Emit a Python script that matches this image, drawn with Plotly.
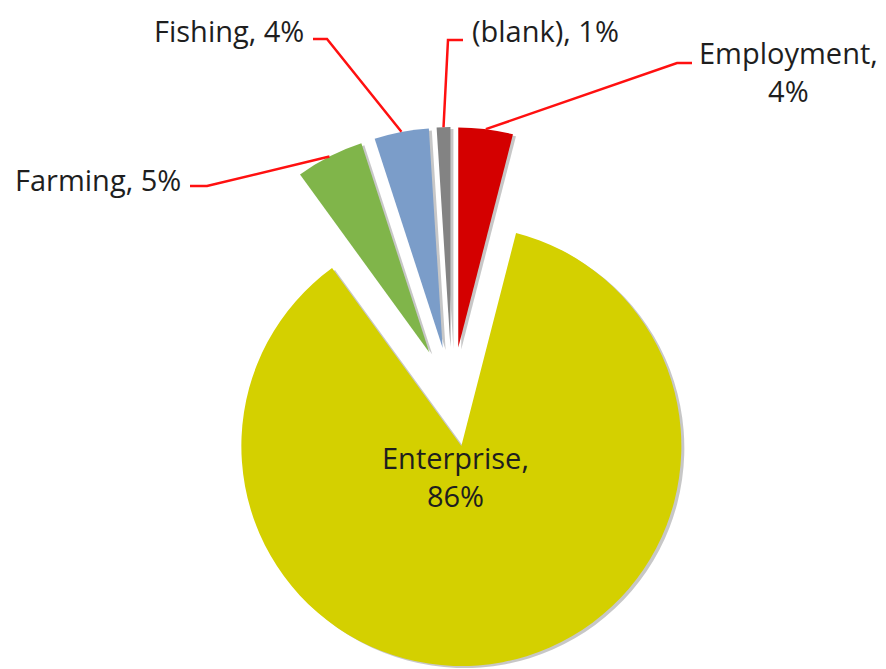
import math
import plotly.graph_objects as go

# Share of records by category (percent)
categories = ["Employment", "Enterprise", "Farming", "Fishing", "(blank)"]
shares = [4, 86, 5, 4, 1]
slice_colors = ["#D40000", "#D4D000", "#80B54A", "#7B9DC9", "#838383"]

# Figure geometry (pixels)
W, H = 886, 669
CX, CY = 452, 397      # pie centre
R = 220                # pie radius
PULL = 0.227           # explosion distance as a fraction of the radius
SHADOW = 2             # drop-shadow offset

# Label placement (pixel centres) and the elbow of each leader line
label_pos = {
    "Employment": (788, 72),
    "Enterprise": (455, 477),
    "Farming": (98, 179),
    "Fishing": (229, 30),
    "(blank)": (545, 30),
}
leader_elbow = {
    "Employment": [(692, 63), (677, 63)],
    "Farming": [(190, 186), (207, 186)],
    "Fishing": [(313, 39), (327, 39)],
    "(blank)": [(463, 40), (448, 40)],
}

total = sum(shares)
half = R * (1 + PULL)


def domain(cx, cy):
    return dict(x=[max(0, (cx - half) / W), min(1, (cx + half) / W)],
                y=[max(0, 1 - (cy + half) / H), min(1, 1 - (cy - half) / H)])


def px(x, y):
    return x / W, 1 - y / H


def outer_mid(i):
    """Midpoint of slice i's outer arc after it has been pulled out."""
    start = sum(shares[:i]) / total * 360
    mid = math.radians(start + shares[i] / total * 180)
    dx, dy = math.sin(mid), -math.cos(mid)
    d = R * (1 + PULL)
    return CX + d * dx, CY + d * dy


pull = [PULL] * len(shares)

fig = go.Figure()

# soft shadow under the slices
fig.add_trace(go.Pie(
    labels=categories, values=shares, sort=False, direction="clockwise",
    rotation=0, pull=pull, domain=domain(CX + SHADOW + 1, CY + SHADOW),
    marker=dict(colors=["rgba(0,0,0,0.22)"] * len(shares), line=dict(width=0)),
    textinfo="none", hoverinfo="skip", showlegend=False,
))

fig.add_trace(go.Pie(
    labels=categories, values=shares, sort=False, direction="clockwise",
    rotation=0, pull=pull, domain=domain(CX, CY),
    marker=dict(colors=slice_colors, line=dict(width=0)),
    textinfo="none", showlegend=False,
))

annotations = []
shapes = []
for i, (cat, val) in enumerate(zip(categories, shares)):
    sep = "<br>" if cat in ("Employment", "Enterprise") else " "
    lx, ly = px(*label_pos[cat])
    annotations.append(dict(
        x=lx, y=ly, xref="paper", yref="paper", showarrow=False,
        text=f"{cat},{sep}{val}%", xanchor="center", yanchor="middle",
        font=dict(family="Open Sans", size=29, color="#1E1E1E"),
    ))
    if cat in leader_elbow:
        pts = [px(*p) for p in leader_elbow[cat]] + [px(*outer_mid(i))]
        path = "M " + " L ".join(f"{x:.5f},{y:.5f}" for x, y in pts)
        shapes.append(dict(type="path", xref="paper", yref="paper", path=path,
                           line=dict(color="#FF1010", width=2.5)))

fig.update_layout(
    width=W, height=H,
    margin=dict(l=0, r=0, t=0, b=0),
    paper_bgcolor="white", plot_bgcolor="white",
    annotations=annotations, shapes=shapes,
)

fig.write_html("out.html")
